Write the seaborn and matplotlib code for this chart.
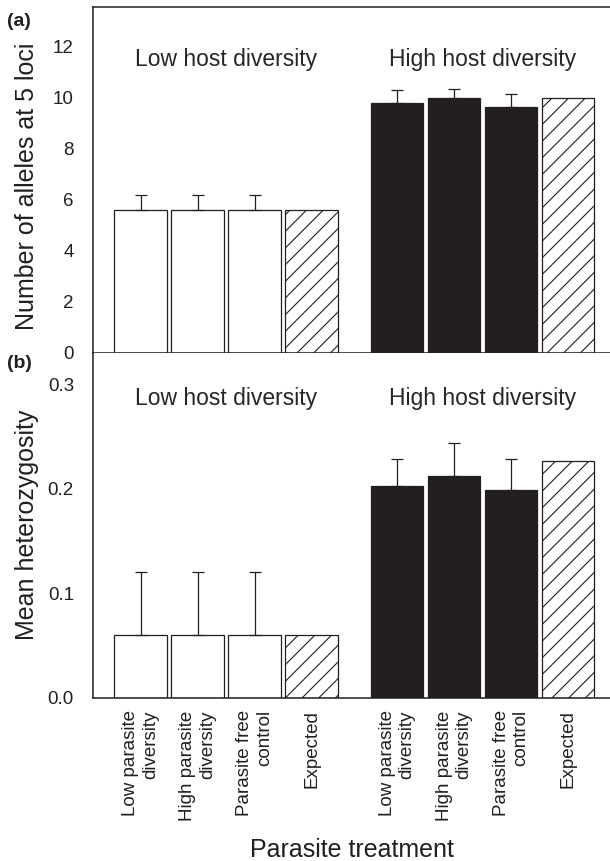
import numpy as np
import pandas as pd
import seaborn as sns
import matplotlib.pyplot as plt

# values
hosts = ['Low host diversity', 'High host diversity']
treatments = ['Low parasite\ndiversity', 'High parasite\ndiversity',
              'Parasite free\ncontrol', 'Expected']

alleles_low = [5.6, 5.6, 5.6, 5.6]
alleles_low_se = [0.6, 0.6, 0.6, np.nan]
alleles_high = [9.8, 10.0, 9.65, 10.0]
alleles_high_se = [0.5, 0.33, 0.48, np.nan]

het_low = [0.06, 0.06, 0.06, 0.06]
het_low_se = [0.06, 0.06, 0.06, np.nan]
het_high = [0.203, 0.212, 0.199, 0.226]
het_high_se = [0.025, 0.032, 0.029, np.nan]

INK = '#231f20'

sns.set_style('white')
plt.rcParams['font.family'] = ['Liberation Sans', 'DejaVu Sans']
plt.rcParams['hatch.linewidth'] = 0.8
plt.rcParams['hatch.color'] = INK

df = pd.DataFrame({
    'host': np.repeat(hosts, 4),
    'treatment': treatments * 2,
    'alleles': alleles_low + alleles_high,
    'alleles_se': alleles_low_se + alleles_high_se,
    'het': het_low + het_high,
    'het_se': het_low_se + het_high_se,
})
# second host group shifted so there is a gap between the groups
df['pos'] = np.repeat([0.0, 4.5], 4) + np.tile(np.arange(4), 2)

fig = plt.figure(figsize=(6.1, 8.61), dpi=100)
ax_a = fig.add_axes([0.153, 0.5904, 0.847, 0.4011])
ax_b = fig.add_axes([0.153, 0.1895, 0.847, 0.4009])


def draw(ax, col, secol, ymax, yticks, fmt, text_y):
    sns.barplot(data=df, x='pos', y=col, native_scale=True, width=0.92,
                color='white', edgecolor=INK, linewidth=0.9, errorbar=None,
                ax=ax)
    bars = sorted(ax.patches, key=lambda p: p.get_x())
    for bar, (_, row) in zip(bars, df.sort_values('pos').iterrows()):
        if row.treatment == 'Expected':
            bar.set_facecolor('white')
            bar.set_hatch('//')
        elif row.host == hosts[1]:
            bar.set_facecolor(INK)
        else:
            bar.set_facecolor('white')
        bar.set_edgecolor(INK)

    sub = df.dropna(subset=[secol])
    ax.errorbar(sub.pos, sub[col], yerr=[np.zeros(len(sub)), sub[secol]],
                fmt='none', ecolor=INK, elinewidth=0.9, capsize=4.6,
                capthick=0.9, zorder=3)

    for h in hosts:
        ax.text(df.loc[df.host == h, 'pos'].mean(), text_y, h,
                ha='center', va='center', fontsize=16.5)

    ax.set_xlim(-0.83, 8.235)
    ax.set_ylim(0, ymax)
    ax.set_yticks(yticks)
    ax.set_yticklabels([fmt.format(v) for v in yticks])
    ax.set_xlabel('')
    ax.set_ylabel('')
    ax.tick_params(axis='y', direction='in', length=6, width=0.9, pad=14,
                   labelsize=13.5, colors=INK)
    ax.tick_params(axis='x', length=0, pad=9)
    for s in ax.spines.values():
        s.set_color(INK)
        s.set_linewidth(1.1)
    ax.spines['right'].set_visible(False)


draw(ax_a, 'alleles', 'alleles_se', 13.55, [0, 2, 4, 6, 8, 10, 12], '{:.0f}', 11.5)
draw(ax_b, 'het', 'het_se', 0.330, [0.0, 0.1, 0.2, 0.3], '{:.1f}', 0.2866)

ax_a.set_xticks(df.pos)
ax_a.set_xticklabels([])
ax_b.spines['top'].set_visible(False)
ax_b.set_xticks(df.pos)
ax_b.set_xticklabels(df.treatment, rotation=90, fontsize=13.5,
                     multialignment='right', color=INK)

fig.text(27 / 610, 1 - 186 / 861, 'Number of alleles at 5 loci', rotation=90,
         ha='center', va='center', fontsize=18, color=INK)
fig.text(27 / 610, 1 - 525 / 861, 'Mean heterozygosity', rotation=90,
         ha='center', va='center', fontsize=18, color=INK)
fig.text(352 / 610, 1 - 850 / 861, 'Parasite treatment', ha='center',
         va='center', fontsize=18, color=INK)
fig.text(7 / 610, 1 - 13 / 861, '(a)', fontweight='bold', va='top',
         fontsize=14, color=INK)
fig.text(7 / 610, 1 - 355 / 861, '(b)', fontweight='bold', va='top',
         fontsize=14, color=INK)

fig.savefig('out.png', dpi=100, facecolor='white')
